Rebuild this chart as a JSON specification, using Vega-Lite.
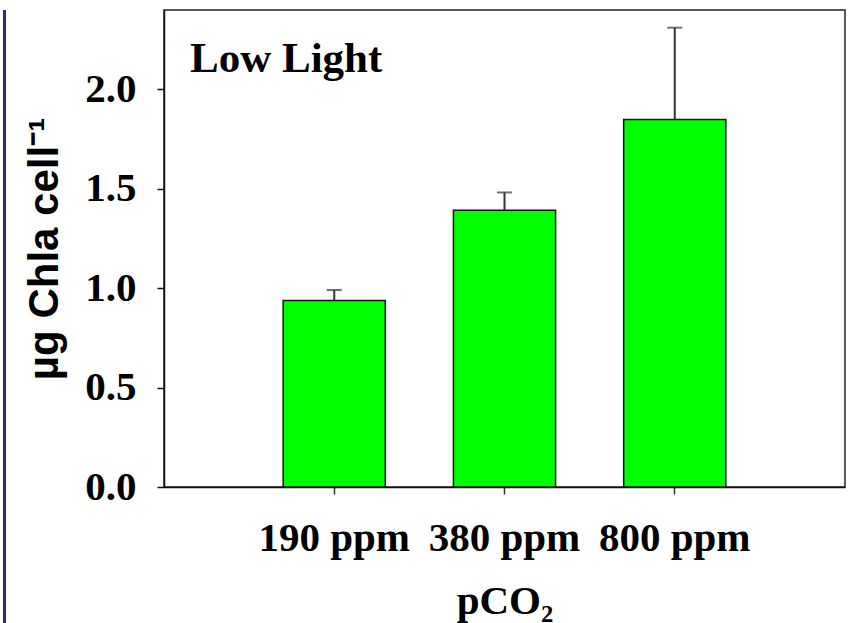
{
  "$schema": "https://vega.github.io/schema/vega-lite/v6.json",
  "padding": {"left": 3, "top": 9, "right": 0, "bottom": 0},
  "background": "white",
  "bounds": "flush",
  "spacing": 158,
  "config": {
    "view": {"stroke": "#222222", "strokeWidth": 1.5},
    "axis": {"grid": false}
  },
  "datasets": {
    "chla": [
      {"pco2": "190 ppm", "chla": 0.938, "upper": 0.991},
      {"pco2": "380 ppm", "chla": 1.393, "upper": 1.482},
      {"pco2": "800 ppm", "chla": 1.849, "upper": 2.311}
    ]
  },
  "hconcat": [
    {
      "width": 3,
      "height": 623,
      "view": {"fill": "#2b2b96", "stroke": null},
      "data": {"values": []},
      "mark": "point"
    },
    {
      "width": 681,
      "height": 477,
      "data": {"name": "chla"},
      "title": {
        "text": "Low Light",
        "anchor": "start",
        "frame": "group",
        "orient": "top",
        "offset": -71,
        "dx": 26,
        "font": "Liberation Serif",
        "fontWeight": "bold",
        "fontSize": 43,
        "color": "black"
      },
      "encoding": {
        "x": {
          "field": "pco2",
          "type": "nominal",
          "sort": null,
          "scale": {"paddingInner": 0.4, "paddingOuter": 0.7},
          "axis": {
            "title": "pCO₂",
            "titleFont": "Liberation Serif",
            "titleFontWeight": "bold",
            "titleFontSize": 41,
            "titleColor": "black",
            "titlePadding": 23,
            "labelFont": "Liberation Serif",
            "labelFontWeight": "bold",
            "labelFontSize": 41,
            "labelColor": "black",
            "labelAngle": 0,
            "labelPadding": 24,
            "tickSize": 7,
            "tickColor": "#333333",
            "tickWidth": 1.5,
            "domainColor": "#111111",
            "domainWidth": 1.5
          }
        }
      },
      "layer": [
        {
          "mark": {"type": "bar", "fill": "#00ff00", "stroke": "#111111", "strokeWidth": 1.5},
          "encoding": {
            "y": {
              "field": "chla",
              "type": "quantitative",
              "scale": {"domain": [0, 2.4], "nice": false},
              "axis": {
                "title": "µg Chla cell⁻¹",
                "titleFont": "Liberation Sans",
                "titleFontWeight": "bold",
                "titleFontSize": 42,
                "titleColor": "black",
                "titlePadding": 18,
                "values": [0, 0.5, 1, 1.5, 2],
                "format": ".1f",
                "labelFont": "Liberation Serif",
                "labelFontWeight": "bold",
                "labelFontSize": 41,
                "labelColor": "black",
                "labelPadding": 21,
                "tickSize": 7,
                "tickColor": "#111111",
                "tickWidth": 1.5,
                "domainColor": "#111111",
                "domainWidth": 1.5
              }
            }
          }
        },
        {
          "mark": {"type": "rule", "color": "#333333", "strokeWidth": 2},
          "encoding": {
            "y": {"field": "chla", "type": "quantitative"},
            "y2": {"field": "upper"}
          }
        },
        {
          "mark": {"type": "tick", "orient": "horizontal", "color": "#333333", "size": 15, "thickness": 2},
          "encoding": {
            "y": {"field": "upper", "type": "quantitative"}
          }
        }
      ]
    }
  ]
}
